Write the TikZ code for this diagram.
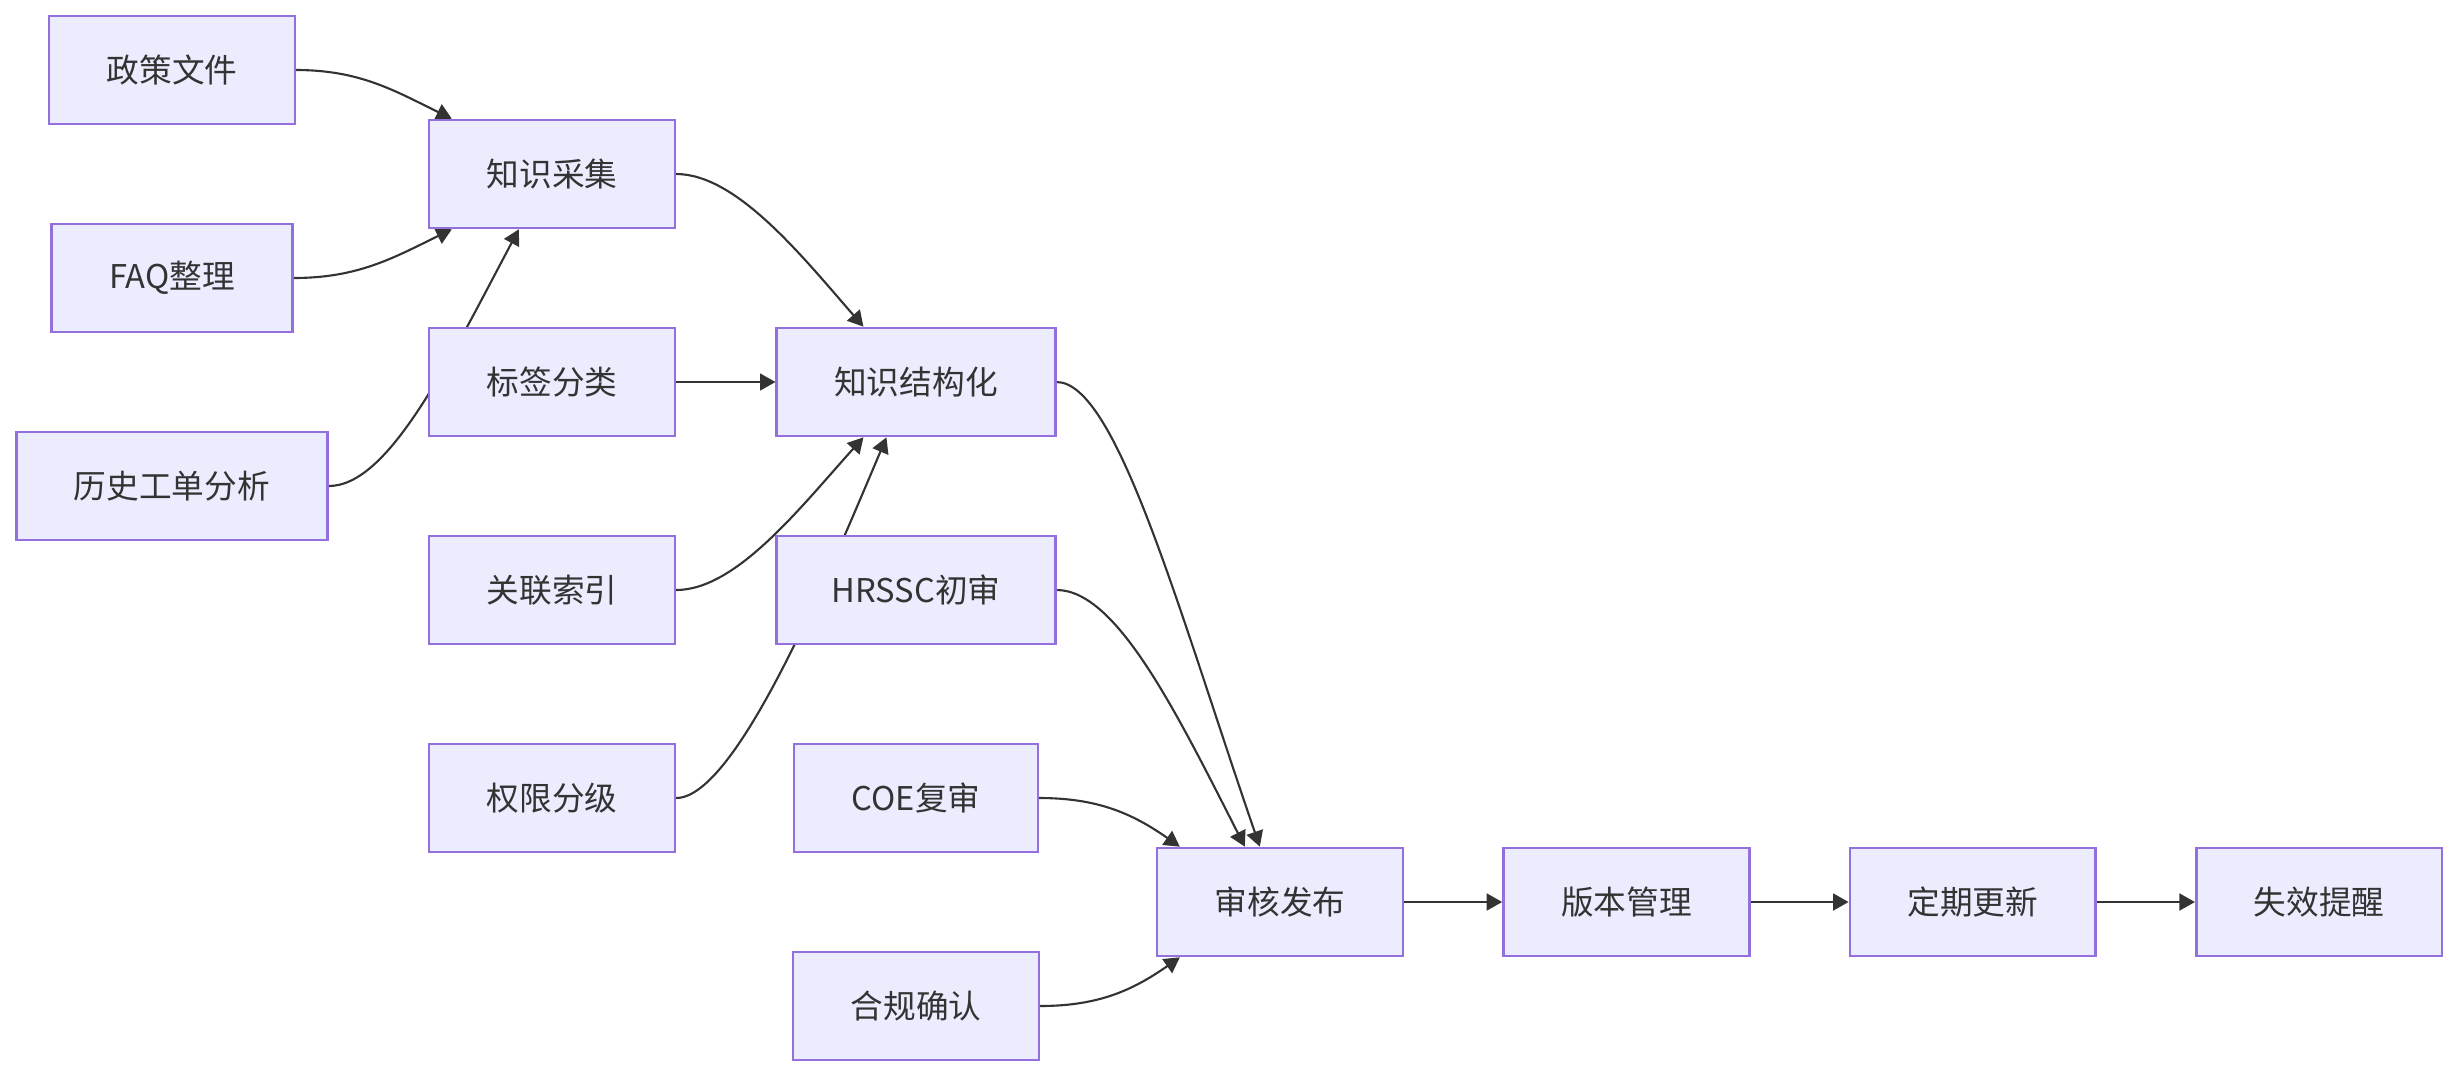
\documentclass[tikz,border=0pt]{standalone}
\usepackage{fontspec}
\usepackage{tikz}
\usetikzlibrary{arrows.meta, positioning}
\newfontfamily\cjk{Noto Sans CJK SC}
\definecolor{boxfill}{HTML}{ECECFF}
\definecolor{boxline}{HTML}{9370DB}
\definecolor{ink}{HTML}{333333}
\pgfdeclarelayer{bg}
\pgfsetlayers{bg,main}

\begin{document}
\begin{tikzpicture}[
		box/.style={draw=boxline, fill=boxfill, line width=0.75pt, text=ink,
			minimum height=1.08cm, inner xsep=0.575cm, font=\cjk\fontsize{9.3}{11}\selectfont},
		flow/.style={draw=ink, line width=0.6pt, -{Triangle[length=4.4pt,width=4.8pt]}}
	]
		\useasboundingbox (0,0) rectangle (24.64,-10.76);
		% Sources
		\node[box] (zcwj) at (1.72,-0.70) {政策文件};
		\node[box] (faq) at (1.72,-2.78) {FAQ整理};
		\node[box] (lsgd) at (1.72,-4.86) {历史工单分析};
		% Collection and tagging
		\node[box] (zscj) at (5.52,-1.74) {知识采集};
		\node[box] (bqfl) at (5.52,-3.82) {标签分类};
		\node[box] (glsy) at (5.52,-5.90) {关联索引};
		\node[box] (qxfj) at (5.52,-7.98) {权限分级};
		% Structuring and review
		\node[box] (jgh) at (9.16,-3.82) {知识结构化};
		\node[box, inner xsep=0.55cm] (hrssc) at (9.16,-5.90) {HRSSC初审};
		\node[box] (coe) at (9.16,-7.98) {COE复审};
		\node[box] (hgqr) at (9.16,-10.06) {合规确认};
		% Release chain
		\node[box] (shfb) at (12.80,-9.02) {审核发布};
		\node[box, right=0.98cm of shfb] (bbgl) {版本管理};
		\node[box, right=0.98cm of bbgl] (dqgx) {定期更新};
		\node[box, right=0.98cm of dqgx] (sxtx) {失效提醒};
		% Connectors, kept behind the boxes
		\begin{pgfonlayer}{bg}
			\draw[flow] (zcwj.east) to[out=0, in=154] ([xshift=0.24cm]zscj.north west);
			\draw[flow] (faq.east) to[out=0, in=-154] ([xshift=0.24cm]zscj.south west);
			\draw[flow] (lsgd.east) to[out=0, in=-118, out distance=0.6cm, in distance=1.5cm] ([xshift=0.91cm]zscj.south west);
			\draw[flow] (zscj.east) to[out=0, in=131, out distance=0.6cm, in distance=0.95cm] ([xshift=0.88cm]jgh.north west);
			\draw[flow] (bqfl) -- (jgh);
			\draw[flow] (glsy.east) to[out=0, in=-132, out distance=0.6cm, in distance=0.95cm] ([xshift=0.88cm]jgh.south west);
			\draw[flow] (qxfj.east) to[out=0, in=-113, out distance=0.6cm, in distance=1.5cm] ([xshift=1.11cm]jgh.south west);
			\draw[flow] (jgh.east) to[out=0, in=109, out distance=0.6cm, in distance=2.5cm] ([xshift=1.04cm]shfb.north west);
			\draw[flow] (hrssc.east) to[out=0, in=117, out distance=0.6cm, in distance=1.5cm] ([xshift=0.89cm]shfb.north west);
			\draw[flow] (coe.east) to[out=0, in=145] ([xshift=0.24cm]shfb.north west);
			\draw[flow] (hgqr.east) to[out=0, in=-145] ([xshift=0.24cm]shfb.south west);
			\draw[flow] (shfb) -- (bbgl);
			\draw[flow] (bbgl) -- (dqgx);
			\draw[flow] (dqgx) -- (sxtx);
		\end{pgfonlayer}
	\end{tikzpicture}
\end{document}
